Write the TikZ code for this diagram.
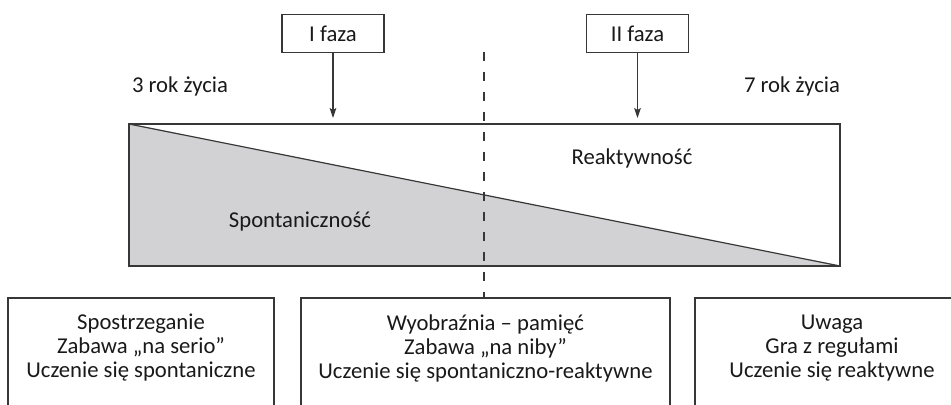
\documentclass[tikz,border=0pt]{standalone}
\usepackage{fontspec}
\setmainfont{Carlito}
\usetikzlibrary{arrows.meta,positioning}

\definecolor{linegray}{RGB}{55,55,55}
\definecolor{shadegray}{RGB}{210,210,212}

\tikzset{
    phasebox/.style={draw=linegray,line width=0.9pt,minimum width=76.5pt,minimum height=29pt,inner sep=0pt},
    stagebox/.style={draw=linegray,line width=0.9pt},
    stagetext/.style={align=center,inner sep=0pt},
    phasearrow/.style={draw=linegray,line width=0.9pt,-{Stealth[length=7.5pt,width=5pt,inset=1.5pt]}}
}

\begin{document}
\begin{tikzpicture}[x=0.75pt,y=-0.75pt,font=\fontsize{17}{18}\selectfont,text=black!90]

    \useasboundingbox (0,0) rectangle (951,404);
    \clip (0,0) rectangle (951,404);

    %main band
    \coordinate (tl) at (129,124);
    \coordinate (tr) at (840,124);
    \coordinate (bl) at (129,266);
    \coordinate (br) at (840,266);
    \fill[shadegray] (tl) -- (br) -- (bl) -- cycle;
    \draw[linegray,line width=0.9pt] (tl) rectangle (br);
    \draw[linegray,line width=0.9pt] (tl) -- (br);

    %phase boxes
    \node[phasebox] (faza1) at (333,33.5) {I faza};
    \node[phasebox] (faza2) at (637.5,33.5) {II faza};
    \coordinate (hit1) at (333,118);
    \coordinate (hit2) at (637.5,118);
    \draw[phasearrow] (faza1) -- (hit1);
    \draw[phasearrow] (faza2) -- (hit2);

    %ages
    \node (rok3) at (180,86) {3 rok życia};
    \node (rok7) at (792,86) {7 rok życia};

    %band labels
    \node (spont) at (300,222) {Spontaniczność};
    \node (reakt) at (632,158) {Reaktywność};

    %divider
    \coordinate (divtop) at (484,52);
    \coordinate (divbot) at (484,298);
    \draw[linegray,line width=0.8pt,dash pattern=on 6.5pt off 8.5pt] (divtop) -- (divbot);

    %stages
    \draw[stagebox] (8,298) rectangle (274,420);
    \draw[stagebox] (301,298) rectangle (670,420);
    \draw[stagebox] (695,298) rectangle (969,420);
    \node[stagetext] (etap1) at (141,348) {Spostrzeganie\\Zabawa „na serio”\\Uczenie się spontaniczne};
    \node[stagetext] (etap2) at (485.5,348) {Wyobraźnia – pamięć\\Zabawa „na niby”\\Uczenie się spontaniczno-reaktywne};
    \node[stagetext] (etap3) at (832,348) {Uwaga\\Gra z regułami\\Uczenie się reaktywne};

\end{tikzpicture}
\end{document}
